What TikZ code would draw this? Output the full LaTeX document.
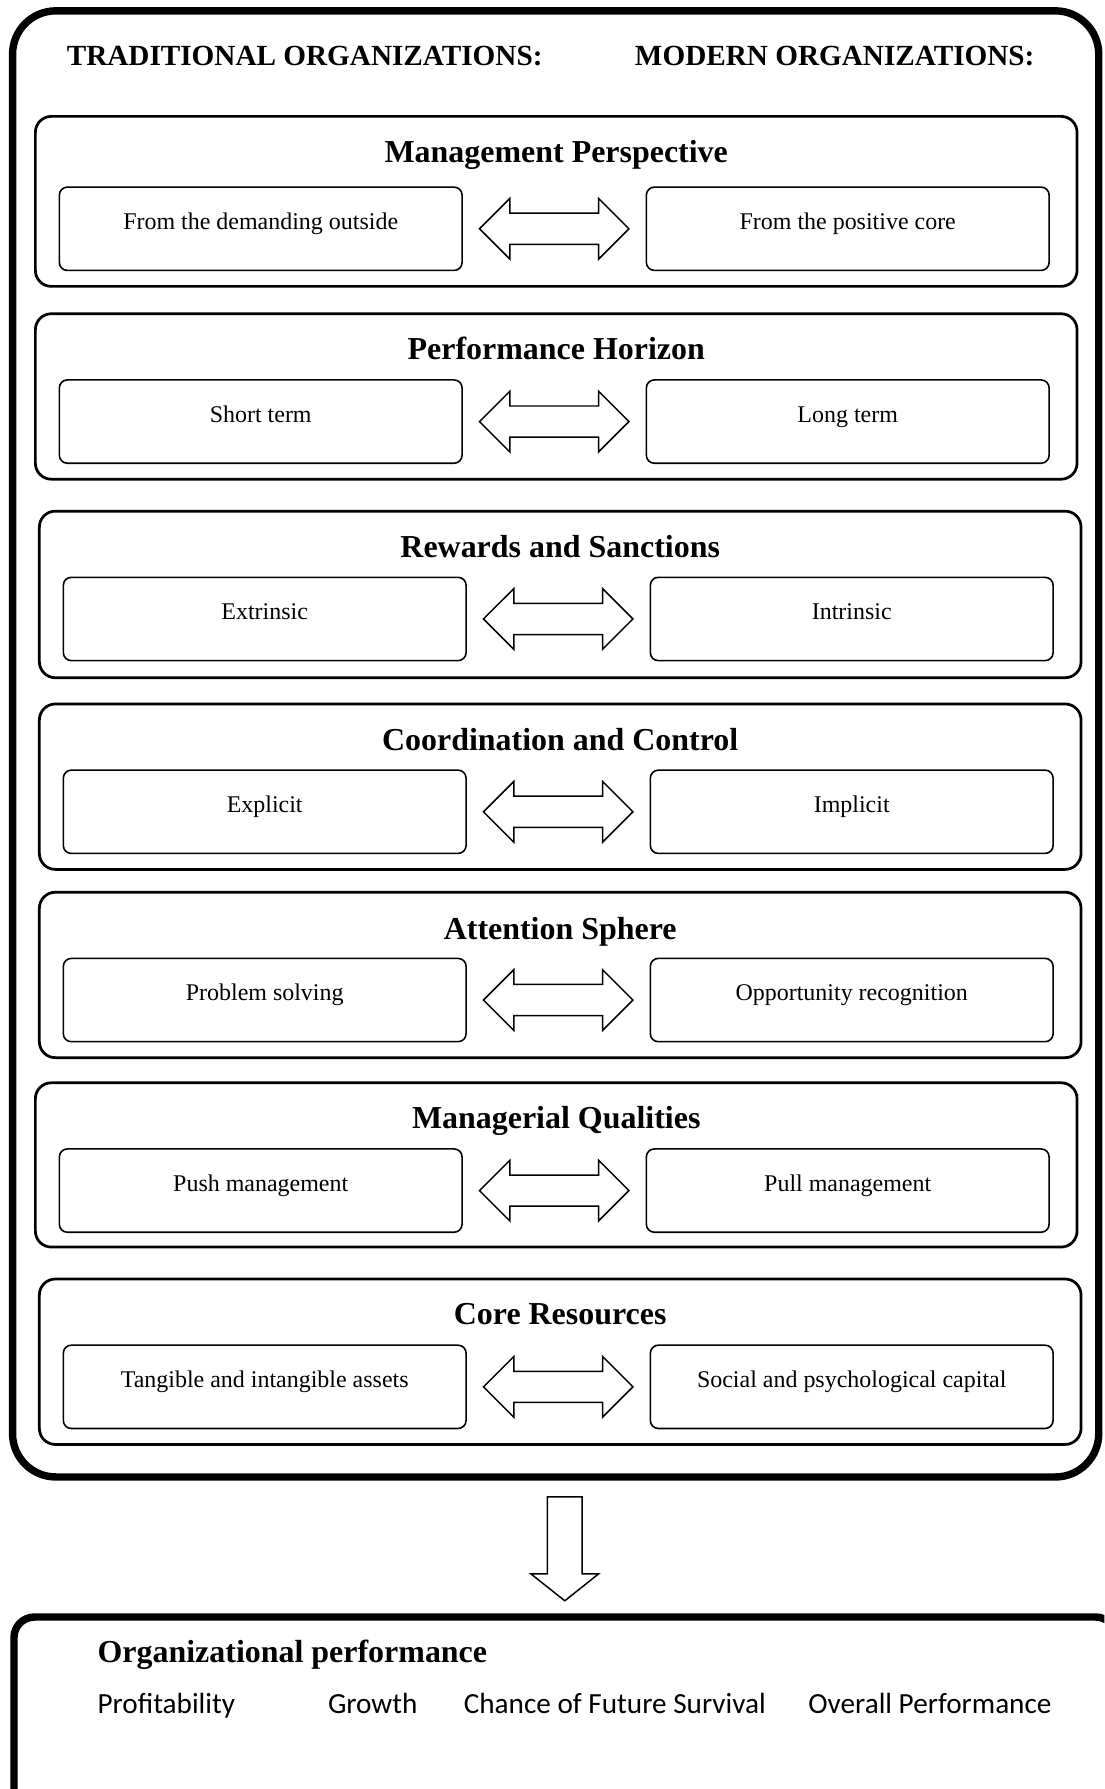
\documentclass[tikz,border=0pt]{standalone}
\usepackage{fontspec}
\setmainfont{Liberation Serif}
\newfontfamily\calibrifont{Carlito}
\usetikzlibrary{shapes.arrows,calc}

\begin{document}
\begin{tikzpicture}[x=1pt,y=1pt,yscale=-1,xscale=1,
  secbox/.style={draw, line width=2.4pt, rounded corners=14pt, minimum width=913pt, inner sep=0pt},
  sectitle/.style={anchor=base, font=\bfseries\fontsize{28}{34}\selectfont},
  itembox/.style={draw, line width=1.4pt, rounded corners=7pt, minimum width=353pt, inner sep=0pt, text height=37pt, text depth=36pt, font=\fontsize{21}{25}\selectfont},
  twoway/.style={double arrow, draw, line width=1.3pt, minimum height=131pt, text height=13pt, text depth=13pt, double arrow head extend=13pt, double arrow tip angle=90, inner sep=0pt},
  headtext/.style={anchor=base west, font=\bfseries\fontsize{25.6}{30}\selectfont},
  perftext/.style={anchor=base west, font=\calibrifont\fontsize{25.6}{30}\selectfont}
]
\useasboundingbox (0,0) rectangle (968,1568);
\clip (0,0) rectangle (968,1568);

%Shape: Outer frame
\node [draw, line width=6.5pt, rounded corners=38pt, minimum width=952pt, minimum height=1285pt, inner sep=0pt] (outer) at (487,652) {};
% Text Node
\node [headtext] (tradHead) at (55,57) {TRADITIONAL ORGANIZATIONS:};
% Text Node
\node [headtext] (modHead) at (553,57) {MODERN ORGANIZATIONS:};

%Shape: Management Perspective
\node [secbox, minimum height=149pt] (mpBox) at (487.5,176.5) {};
\node [sectitle] (mpTitle) at (487.5,142) {Management Perspective};
\node [itembox] (mpOld) at (228.5,200.5) {From the demanding outside};
\node [itembox] (mpNew) at (743,200.5) {From the positive core};
\node [twoway] (mpArrow) at ($(mpOld.east)!0.5!(mpNew.west)$) {};

%Shape: Performance Horizon
\node [secbox, minimum height=145pt] (phBox) at (487.5,347.5) {};
\node [sectitle] (phTitle) at (487.5,315) {Performance Horizon};
\node [itembox] (phOld) at (228.5,369.5) {Short term};
\node [itembox] (phNew) at (743,369.5) {Long term};
\node [twoway] (phArrow) at ($(phOld.east)!0.5!(phNew.west)$) {};

%Shape: Rewards and Sanctions
\node [secbox, minimum height=146pt] (rsBox) at (491,521) {};
\node [sectitle] (rsTitle) at (491,489) {Rewards and Sanctions};
\node [itembox] (rsOld) at (232,542.5) {Extrinsic};
\node [itembox] (rsNew) at (746.5,542.5) {Intrinsic};
\node [twoway] (rsArrow) at ($(rsOld.east)!0.5!(rsNew.west)$) {};

%Shape: Coordination and Control
\node [secbox, minimum height=145pt] (ccBox) at (491,689.5) {};
\node [sectitle] (ccTitle) at (491,658) {Coordination and Control};
\node [itembox] (ccOld) at (232,711.5) {Explicit};
\node [itembox] (ccNew) at (746.5,711.5) {Implicit};
\node [twoway] (ccArrow) at ($(ccOld.east)!0.5!(ccNew.west)$) {};

%Shape: Attention Sphere
\node [secbox, minimum height=145pt] (asBox) at (491,854.5) {};
\node [sectitle] (asTitle) at (491,823) {Attention Sphere};
\node [itembox] (asOld) at (232,876.5) {Problem solving};
\node [itembox] (asNew) at (746.5,876.5) {Opportunity recognition};
\node [twoway] (asArrow) at ($(asOld.east)!0.5!(asNew.west)$) {};

%Shape: Managerial Qualities
\node [secbox, minimum height=144pt] (mqBox) at (487.5,1021) {};
\node [sectitle] (mqTitle) at (487.5,989) {Managerial Qualities};
\node [itembox] (mqOld) at (228.5,1043.5) {Push management};
\node [itembox] (mqNew) at (743,1043.5) {Pull management};
\node [twoway] (mqArrow) at ($(mqOld.east)!0.5!(mqNew.west)$) {};

%Shape: Core Resources
\node [secbox, minimum height=145pt] (crBox) at (491,1193.5) {};
\node [sectitle] (crTitle) at (491,1161) {Core Resources};
\node [itembox] (crOld) at (232,1215.5) {Tangible and intangible assets};
\node [itembox] (crNew) at (746.5,1215.5) {Social and psychological capital};
\node [twoway] (crArrow) at ($(crOld.east)!0.5!(crNew.west)$) {};

%Shape: Down arrow
\node [single arrow, draw, line width=1.3pt, rotate=-90, minimum height=91pt, text height=14.5pt, text depth=14.5pt, single arrow head extend=14.5pt, single arrow tip angle=103, inner sep=0pt] (downArrow) at (495,1351.5) {};

%Shape: Organizational performance frame
\node [draw, line width=6.5pt, rounded corners=18pt, minimum width=966pt, minimum height=250pt, inner sep=0pt, anchor=north west] (perf) at (9,1414) {};
% Text Node
\node [anchor=base west, font=\bfseries\fontsize{28}{34}\selectfont] (perfTitle) at (82,1457) {Organizational performance};
% Text Node
\node [perftext] (profit) at (82,1502) {Profitability};
% Text Node
\node [perftext] (growth) at (284,1502) {Growth};
% Text Node
\node [perftext] (survival) at (403,1502) {Chance of Future Survival};
% Text Node
\node [perftext] (overall) at (705,1502) {Overall Performance};
\end{tikzpicture}
\end{document}
